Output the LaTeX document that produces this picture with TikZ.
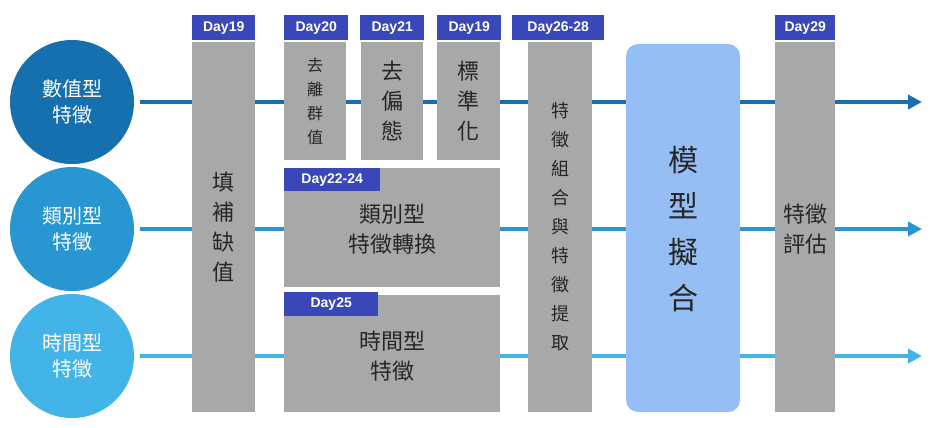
\documentclass[tikz,border=0pt]{standalone}
\usepackage{fontspec}
\setmainfont{Liberation Sans}
\newfontfamily\cjk{Noto Sans CJK TC}
\usetikzlibrary{arrows.meta}
\definecolor{cA}{HTML}{1670AE}
\definecolor{cB}{HTML}{2796D1}
\definecolor{cC}{HTML}{42B4E8}
\definecolor{gbox}{HTML}{A6A8A9}
\definecolor{lab}{HTML}{3A47B9}
\definecolor{model}{HTML}{95BEF4}
\tikzset{
 circ/.style={circle,minimum size=124pt,inner sep=0pt,text=white,font=\cjk\fontsize{20}{26}\selectfont,align=center},
 arr/.style={line width=3.5pt,-{Triangle[length=14pt,width=14pt]}},
 box/.style={fill=gbox,draw=none},
 txt/.style={font=\cjk\fontsize{22}{30}\selectfont,align=center,text=black!85},
 day/.style={fill=lab,text=white,font=\bfseries\fontsize{14}{16}\selectfont,inner sep=0pt,anchor=north west}
}
\begin{document}
\begin{tikzpicture}[x=1pt,y=-1pt]
\useasboundingbox (0,0) rectangle (939,428);
\node[circ,fill=cA] (c1) at (72,102) {數值型\\特徵};
\node[circ,fill=cB] (c2) at (72,229) {類別型\\特徵};
\node[circ,fill=cC] (c3) at (72,356) {時間型\\特徵};
\coordinate (e1) at (922,102);
\coordinate (e2) at (922,229);
\coordinate (e3) at (922,356);
\draw[arr,cA] (c1.east)++(6,0) -- (e1);
\draw[arr,cB] (c2.east)++(6,0) -- (e2);
\draw[arr,cC] (c3.east)++(6,0) -- (e3);
% boxes
\fill[box] (192,42) rectangle (255,412);
\node[txt] (b1) at (223.5,227) {填\\補\\缺\\值};
\fill[box] (284,42) rectangle (346,160);
\node[txt,font=\cjk\fontsize{16}{24}\selectfont] (b2) at (315,101) {去\\離\\群\\值};
\fill[box] (361,42) rectangle (423,160);
\node[txt] (b3) at (392,101) {去\\偏\\態};
\fill[box] (437,42) rectangle (500,160);
\node[txt] (b4) at (468.5,101) {標\\準\\化};
\fill[box] (284,168) rectangle (500,287);
\node[txt] (b5) at (392,229) {類別型\\特徵轉換};
\fill[box] (284,295) rectangle (500,412);
\node[txt] (b6) at (392,356) {時間型\\特徵};
\fill[box] (528,42) rectangle (592,412);
\node[txt,font=\cjk\fontsize{18}{29}\selectfont] (b7) at (560,227) {特\\徵\\組\\合\\與\\特\\徵\\提\\取};
\fill[model,rounded corners=12pt] (626,44) rectangle (740,412);
\node[txt,font=\cjk\fontsize{30}{46}\selectfont] (b8) at (683,229) {模\\型\\擬\\合};
\fill[box] (775,42) rectangle (835,412);
\node[txt] (b9) at (805,229) {特徵\\評估};
% day labels
\node[day,minimum width=63pt,minimum height=25pt] (d1) at (192,15) {Day19};
\node[day,minimum width=64pt,minimum height=25pt] (d2) at (284,15) {Day20};
\node[day,minimum width=64pt,minimum height=25pt] (d3) at (360,15) {Day21};
\node[day,minimum width=64pt,minimum height=25pt] (d4) at (437,15) {Day19};
\node[day,minimum width=92pt,minimum height=25pt] (d5) at (512,15) {Day26-28};
\node[day,minimum width=60pt,minimum height=25pt] (d6) at (775,15) {Day29};
\node[day,minimum width=96pt,minimum height=23pt] (d7) at (284,168) {Day22-24};
\node[day,minimum width=94pt,minimum height=24pt] (d8) at (284,292) {Day25};
\end{tikzpicture}
\end{document}
